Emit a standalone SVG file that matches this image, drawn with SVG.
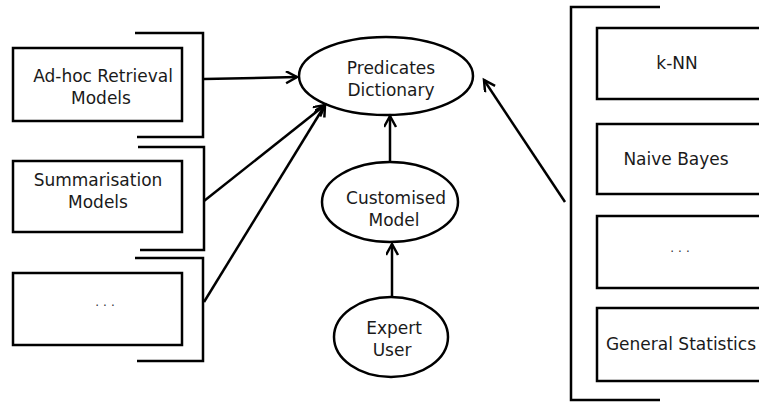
<svg xmlns="http://www.w3.org/2000/svg" width="759" height="402" viewBox="0 0 759 402">
  <style>
    .box { fill: #ffffff; stroke: #000000; stroke-width: 2.5; }
    .ell { fill: #ffffff; stroke: #000000; stroke-width: 2.5; }
    .brk { fill: none; stroke: #000000; stroke-width: 2.5; }
    .lbl { font-family: "DejaVu Sans", "Liberation Sans", sans-serif; font-size: 17px; fill: #1a1a1a; text-anchor: middle; }
    .dots { font-family: "DejaVu Sans", sans-serif; font-size: 12px; fill: #333333; text-anchor: middle; letter-spacing: 4px; }
    .edge { fill: none; stroke: #000000; stroke-width: 2.5; marker-end: url(#arr); }
  </style>
  <defs>
    <marker id="arr" markerUnits="userSpaceOnUse" markerWidth="16" markerHeight="16" refX="12" refY="6" orient="auto">
      <path d="M1,0 L12,6 L1,12" fill="none" stroke="#000000" stroke-width="2.5"/>
    </marker>
  </defs>
  <rect width="759" height="402" fill="#ffffff"/>

  <!-- left column: model sources with brackets -->
  <g id="adhoc">
    <path class="brk" d="M135,33 H203 V137 H137"/>
    <rect class="box" x="13" y="48" width="169" height="73"/>
    <text class="lbl" x="103" y="82">Ad-hoc Retrieval</text>
    <text class="lbl" x="101" y="104">Models</text>
  </g>
  <g id="summarisation">
    <path class="brk" d="M138,147 H204 V250 H140"/>
    <rect class="box" x="13" y="161" width="169" height="71"/>
    <text class="lbl" x="98" y="186">Summarisation</text>
    <text class="lbl" x="98" y="208">Models</text>
  </g>
  <g id="other-models">
    <path class="brk" d="M135,258 H203 V361 H137"/>
    <rect class="box" x="13" y="273" width="169" height="72"/>
    <text class="dots" x="107" y="306">...</text>
  </g>

  <!-- central ellipses -->
  <g id="predicates">
    <ellipse class="ell" cx="386" cy="76" rx="87" ry="39"/>
    <text class="lbl" x="391" y="74">Predicates</text>
    <text class="lbl" x="391" y="96">Dictionary</text>
  </g>
  <g id="customised">
    <ellipse class="ell" cx="390" cy="202" rx="68" ry="40"/>
    <text class="lbl" x="396" y="204">Customised</text>
    <text class="lbl" x="394" y="226">Model</text>
  </g>
  <g id="expert">
    <ellipse class="ell" cx="391" cy="337" rx="57" ry="40"/>
    <text class="lbl" x="394" y="334">Expert</text>
    <text class="lbl" x="392" y="356">User</text>
  </g>

  <!-- right column: classifiers in one bracket -->
  <g id="classifiers">
    <path class="brk" d="M660,7 H571 V400 H660"/>
  </g>
  <g id="knn">
    <rect class="box" x="597" y="28" width="175" height="71"/>
    <text class="lbl" x="677" y="69">k-NN</text>
  </g>
  <g id="naive-bayes">
    <rect class="box" x="597" y="124" width="175" height="70"/>
    <text class="lbl" x="676" y="165">Naive Bayes</text>
  </g>
  <g id="other-classifiers">
    <rect class="box" x="597" y="216" width="175" height="72"/>
    <text class="dots" x="682" y="252">...</text>
  </g>
  <g id="general-statistics">
    <rect class="box" x="597" y="308" width="175" height="73"/>
    <text class="lbl" x="681" y="350">General Statistics</text>
  </g>

  <!-- connectors -->
  <g id="connectors">
    <line class="edge" x1="204" y1="79" x2="297" y2="77"/>
    <line class="edge" x1="204" y1="201" x2="325" y2="105"/>
    <line class="edge" x1="204" y1="302" x2="325" y2="105"/>
    <line class="edge" x1="390" y1="163" x2="390" y2="116"/>
    <line class="edge" x1="392" y1="297" x2="392" y2="244"/>
    <line class="edge" x1="565" y1="202" x2="484" y2="80"/>
  </g>
</svg>
